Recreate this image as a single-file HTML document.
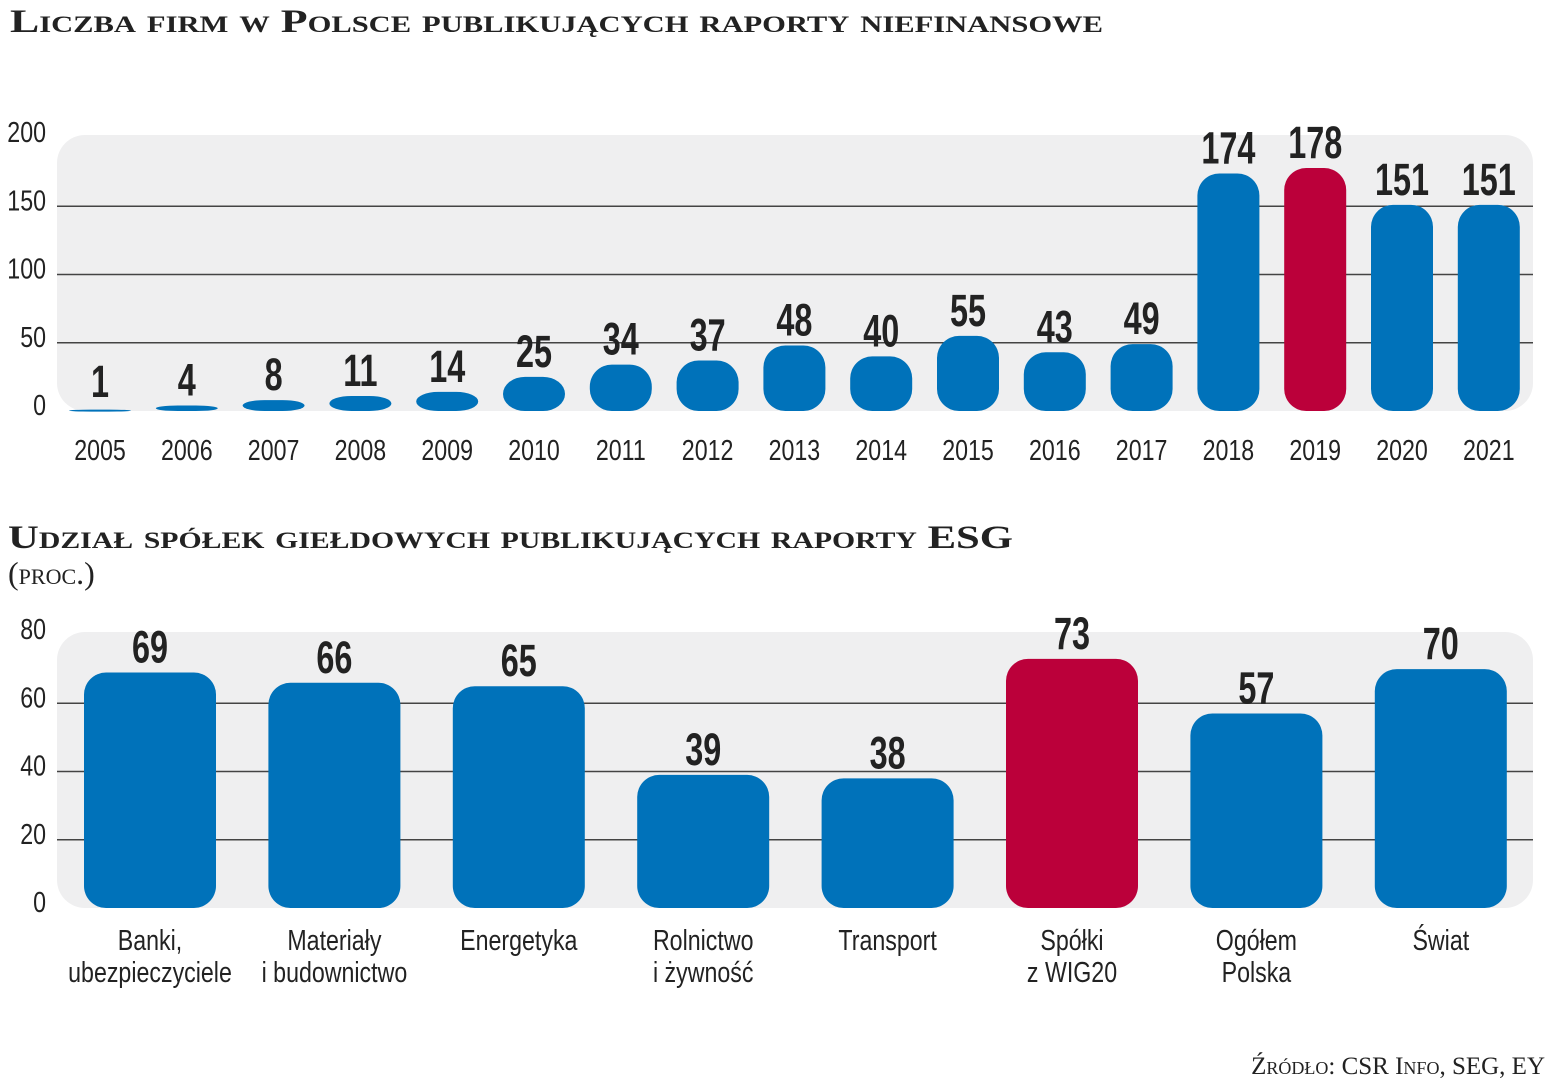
<!DOCTYPE html>
<html><head><meta charset="utf-8"><style>
html,body{margin:0;padding:0;background:#fff;}
svg{display:block;}
.t{font-family:"Liberation Serif",serif;font-weight:bold;font-variant:small-caps;fill:#222;}
.tick{font-family:"Liberation Sans",sans-serif;font-size:29px;fill:#222;}
.val{font-family:"Liberation Sans",sans-serif;font-size:45px;font-weight:bold;fill:#222;}
</style></head><body>
<svg id="svg" width="1549" height="1080" viewBox="0 0 1549 1080" xmlns="http://www.w3.org/2000/svg">
<text class="t" x="10" y="32" font-size="33" textLength="1093" lengthAdjust="spacingAndGlyphs">Liczba firm w Polsce publikujących raporty niefinansowe</text>
<text class="t" x="8" y="548" font-size="33" textLength="1005" lengthAdjust="spacingAndGlyphs">Udział spółek giełdowych publikujących raporty ESG</text>
<text class="t" x="8" y="584" font-size="32" style="font-weight:normal">(proc.)</text>
<text class="t" x="1545" y="1074" font-size="25" text-anchor="end" style="font-weight:normal">Źródło: CSR Info, SEG, EY</text>
<g id="c1"></g><g id="c2"></g>
</svg>
<script>
const years=["2005","2006","2007","2008","2009","2010","2011","2012","2013","2014","2015","2016","2017","2018","2019","2020","2021"];
const counts=[1,4,8,11,14,25,34,37,48,40,55,43,49,174,178,151,151];
const highlight1=["2019"];
const yTicks1=[0,50,100,150,200];
const cats=["Banki,|ubezpieczyciele","Materiały|i budownictwo","Energetyka","Rolnictwo|i żywność","Transport","Spółki|z WIG20","Ogółem|Polska","Świat"];
const shares=[69,66,65,39,38,73,57,70];
const highlight2=["Spółki|z WIG20"];
const yTicks2=[0,20,40,60,80];
const NS="http://www.w3.org/2000/svg";
function mk(p,tag,attrs){const e=document.createElementNS(NS,tag);for(const k in attrs)e.setAttribute(k,attrs[k]);p.appendChild(e);return e;}
function txt(p,cls,x,y,s,anchor,str){const e=mk(p,'text',{x:0,y:0,'text-anchor':anchor,class:cls,transform:`translate(${x},${y}) scale(${s},1)`});e.textContent=str;return e;}
function barPath(x,y,w,h,r){
  const rx=Math.min(r,w/2), ry=Math.min(r,h/2);
  const b=y+h;
  return `M${x},${b-ry} L${x},${y+ry} A${rx},${ry} 0 0 1 ${x+rx},${y} L${x+w-rx},${y} A${rx},${ry} 0 0 1 ${x+w},${y+ry} L${x+w},${b-ry} A${rx},${ry} 0 0 1 ${x+w-rx},${b} L${x+rx},${b} A${rx},${ry} 0 0 1 ${x},${b-ry} Z`;
}
function draw(g,cfg){
  const {cats,vals,hl,ticks,y0,y1,vmax,x0,step,bw,r,bgTop,tickX,labelY,lineH,prefix}=cfg;
  const Y=v=>y0-(v/vmax)*(y0-y1);
  const bg=mk(g,'rect',{x:57,y:bgTop,width:1476,height:y0-bgTop,rx:28,fill:'#efeff0'});
  
  
  const top=ticks[ticks.length-1];
  ticks.forEach(t=>{
    if(t>0&&t<top){const l=mk(g,'line',{x1:57,x2:1533,y1:Y(t),y2:Y(t),stroke:'#444','stroke-width':1.6});
      
      }
    const tx=txt(g,'tick',tickX,Y(t)+4,0.8,'end',String(t));
    
    
  });
  cats.forEach((c,i)=>{
    const cx=x0+i*step, v=vals[i], y=Y(v), h=y0-y;
    const p=mk(g,'path',{d:barPath(cx-bw/2,y,bw,Math.max(h,2),r),fill:hl.includes(c)?'#bb003a':'#0072ba'});
    
    
    const vt=txt(g,'val',cx,Math.min(y,y0-4)-10,0.72,'middle',String(v));
    
    
    c.split('|').forEach((ln,j)=>{
      const lt=txt(g,'tick',cx,labelY+j*lineH,0.8,'middle',ln);
      
      
    });
  });
}
draw(document.getElementById('c1'),{cats:years,vals:counts,hl:highlight1,ticks:yTicks1,y0:411,y1:138,vmax:200,x0:100,step:86.8,bw:62,r:22,bgTop:135,tickX:46,labelY:460,lineH:32,prefix:'chart1'});
draw(document.getElementById('c2'),{cats:cats,vals:shares,hl:highlight2,ticks:yTicks2,y0:908,y1:635,vmax:80,x0:150,step:184.4,bw:132,r:22,bgTop:632,tickX:46,labelY:950,lineH:32,prefix:'chart2'});
</script>
</body></html>
